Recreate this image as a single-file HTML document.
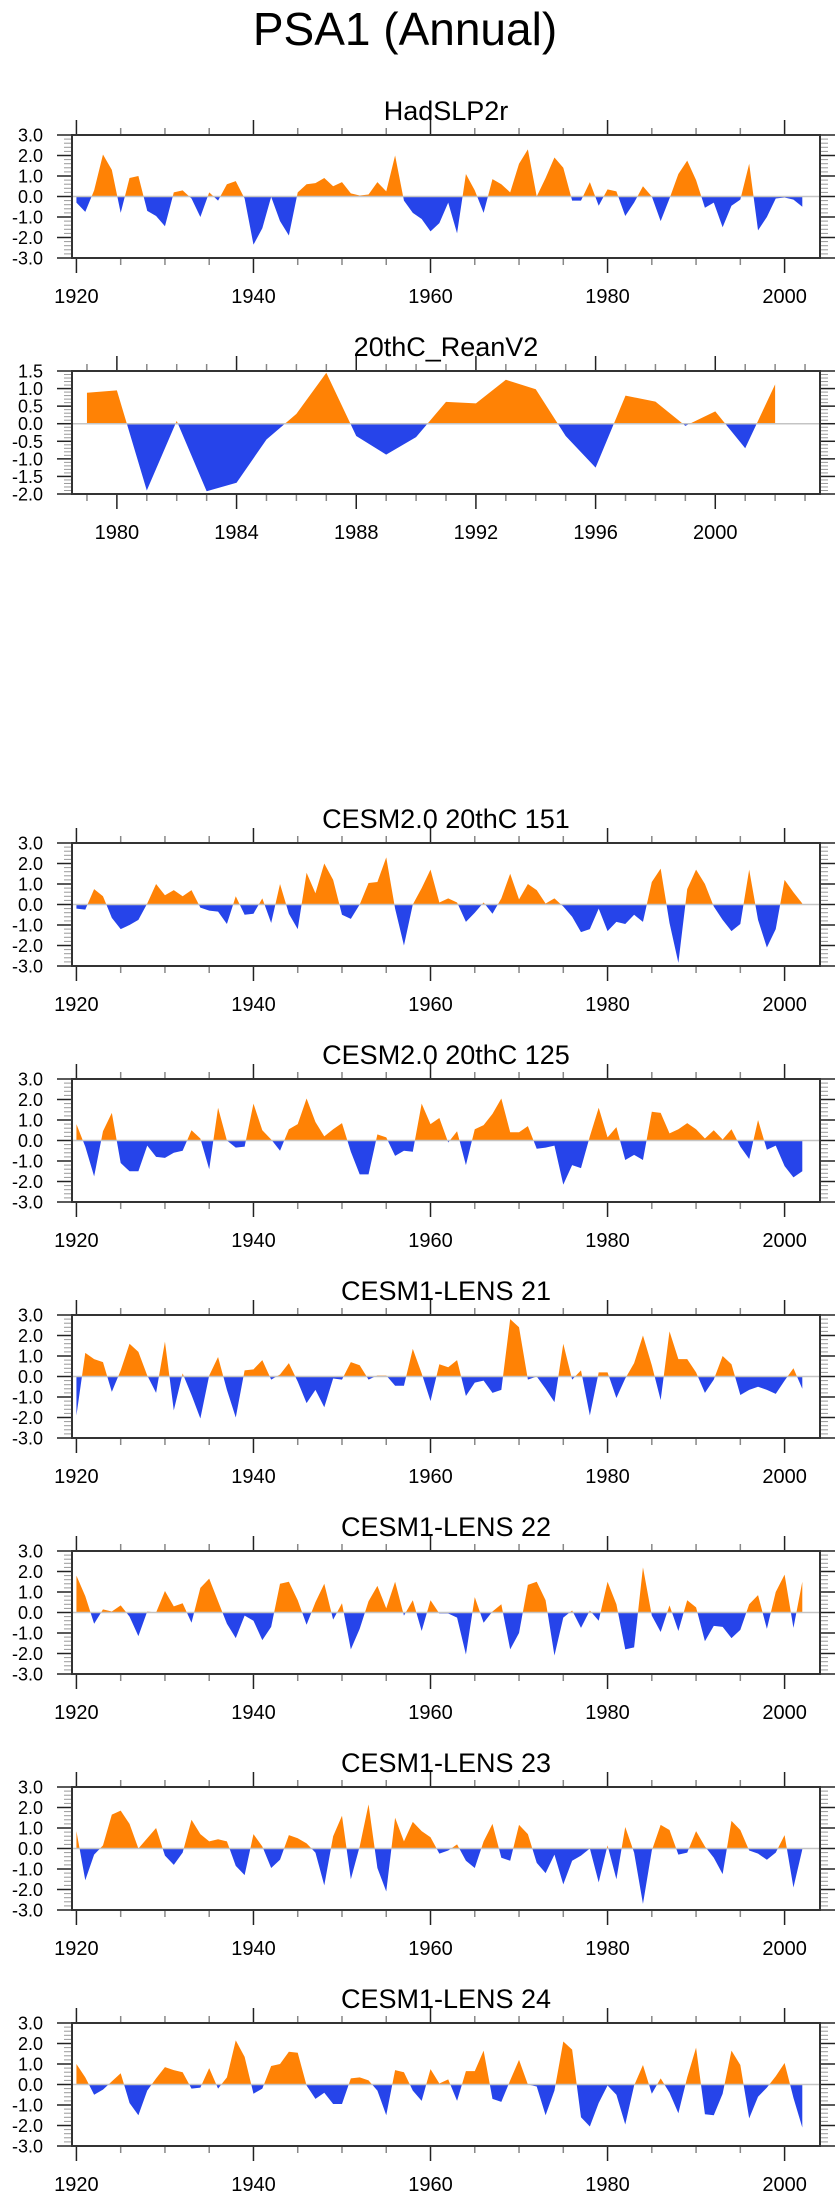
<!DOCTYPE html>
<html>
<head>
<meta charset="utf-8">
<style>
  html,body{margin:0;padding:0;background:#fff;}
  svg{display:block;font-family:"Liberation Sans",Arial,sans-serif;}
</style>
</head>
<body>
<svg id="chart" width="840" height="2200" viewBox="0 0 840 2200" xmlns="http://www.w3.org/2000/svg">
  <rect x="0" y="0" width="840" height="2200" fill="#fff"/>
  <text x="405" y="45" text-anchor="middle" font-size="46" fill="#000">PSA1 (Annual)</text>
</svg>
<script>
// ---- data ----
const panelTitles = ["HadSLP2r","20thC_ReanV2","CESM2.0 20thC 151","CESM2.0 20thC 125","CESM1-LENS 21","CESM1-LENS 22","CESM1-LENS 23","CESM1-LENS 24"];
const startYearLong = 1920;
const startYearRean = 1979;
const yTicksWide = ["3.0","2.0","1.0","0.0","-1.0","-2.0","-3.0"];
const yTicksRean = ["1.5","1.0","0.5","0.0","-0.5","-1.0","-1.5","-2.0"];
const xTickLabelsLong = ["1920","1940","1960","1980","2000"];
const xTickLabelsRean = ["1980","1984","1988","1992","1996","2000"];

const hadslp2r = [-0.3,-0.75,0.3,2.05,1.3,-0.8,0.9,1.0,-0.7,-0.95,-1.45,0.2,0.3,-0.1,-1.0,0.2,-0.2,0.6,0.75,-0.1,
 -2.35,-1.55,-0.02,-1.2,-1.9,0.2,0.6,0.65,0.9,0.5,0.7,0.15,0.05,0.1,0.7,0.25,2.0,-0.2,-0.8,-1.1,
 -1.7,-1.3,-0.3,-1.8,1.1,0.3,-0.8,0.85,0.6,0.2,1.6,2.3,0.0,0.9,1.9,1.4,-0.2,-0.2,0.7,-0.45,
 0.35,0.25,-0.95,-0.3,0.5,0.0,-1.2,-0.1,1.1,1.75,0.8,-0.55,-0.3,-1.5,-0.45,-0.15,1.6,-1.65,-1.0,-0.1,
 -0.05,-0.15,-0.5];
const reanV2 = [0.88,0.95,-1.9,0.08,-1.92,-1.68,-0.45,0.28,1.45,-0.35,-0.88,-0.38,0.62,0.58,1.25,0.98,-0.35,-1.25,0.8,0.63,-0.06,0.35,-0.7,1.12];
const cesm2_151 = [-0.2,-0.25,0.75,0.4,-0.65,-1.2,-1.0,-0.75,0.05,1.0,0.45,0.7,0.4,0.7,-0.15,-0.3,-0.35,-0.95,0.4,-0.5,
 -0.45,0.3,-0.9,1.0,-0.45,-1.2,1.55,0.55,2.0,1.2,-0.5,-0.7,0.0,1.05,1.1,2.3,-0.2,-2.0,0.0,0.8,
 1.7,0.1,0.3,0.1,-0.85,-0.4,0.1,-0.45,0.3,1.5,0.25,1.0,0.7,0.05,0.3,-0.1,-0.6,-1.35,-1.2,-0.2,
 -1.3,-0.85,-0.95,-0.5,-0.85,1.1,1.75,-0.9,-2.85,0.75,1.7,1.0,-0.1,-0.75,-1.3,-0.95,1.7,-0.75,-2.1,-1.2,
 1.2,0.6,0.05];
const cesm2_125 = [0.8,-0.3,-1.75,0.45,1.35,-1.1,-1.5,-1.5,-0.25,-0.8,-0.85,-0.6,-0.5,0.5,0.1,-1.4,1.6,0.0,-0.35,-0.3,
 1.8,0.5,0.05,-0.5,0.55,0.8,2.05,0.9,0.2,0.55,0.85,-0.55,-1.65,-1.65,0.3,0.15,-0.75,-0.5,-0.55,1.8,
 0.8,1.1,-0.1,0.45,-1.2,0.55,0.75,1.3,2.05,0.4,0.4,0.7,-0.4,-0.35,-0.25,-2.15,-1.2,-1.35,0.2,1.6,
 0.15,0.65,-0.95,-0.7,-0.95,1.4,1.35,0.35,0.55,0.85,0.55,0.1,0.5,0.05,0.55,-0.3,-0.9,1.0,-0.45,-0.25,
 -1.25,-1.8,-1.5];
const lens21 = [-1.9,1.15,0.85,0.7,-0.75,0.3,1.6,1.2,0.05,-0.8,1.7,-1.65,0.15,-0.9,-2.05,0.05,0.95,-0.65,-2.0,0.3,
 0.35,0.8,-0.15,0.1,0.65,-0.25,-1.3,-0.65,-1.5,-0.1,-0.15,0.7,0.55,-0.15,0.05,0.05,-0.45,-0.45,1.35,0.15,
 -1.2,0.6,0.45,0.8,-0.95,-0.3,-0.2,-0.8,-0.65,2.8,2.4,-0.15,0.0,-0.6,-1.25,1.6,-0.15,0.3,-1.9,0.2,
 0.2,-1.05,-0.1,0.65,2.0,0.55,-1.15,2.2,0.85,0.85,0.2,-0.8,-0.15,1.0,0.6,-0.9,-0.65,-0.5,-0.65,-0.85,
 -0.2,0.4,-0.6];
const lens22 = [1.8,0.8,-0.55,0.15,0.05,0.35,-0.2,-1.15,0.05,0.0,1.05,0.3,0.45,-0.5,1.2,1.65,0.55,-0.55,-1.25,-0.15,
 -0.4,-1.35,-0.7,1.4,1.5,0.6,-0.6,0.5,1.4,-0.35,0.45,-1.8,-0.8,0.55,1.3,0.2,1.5,-0.15,0.6,-0.9,
 0.6,-0.05,-0.05,-0.25,-2.05,0.75,-0.5,0.05,0.4,-1.8,-1.0,1.35,1.5,0.6,-2.1,-0.25,0.1,-0.75,0.1,-0.4,
 1.5,0.4,-1.8,-1.7,2.2,-0.15,-0.95,0.35,-0.9,0.6,0.25,-1.4,-0.65,-0.7,-1.25,-0.85,0.4,0.85,-0.8,1.0,
 1.85,-0.75,1.5];
const lens23 = [0.85,-1.55,-0.3,0.15,1.65,1.85,1.2,0.0,0.5,1.0,-0.35,-0.8,-0.2,1.4,0.7,0.35,0.45,0.35,-0.85,-1.3,
 0.7,0.1,-0.95,-0.55,0.65,0.5,0.25,-0.2,-1.8,0.6,1.6,-1.5,0.1,2.15,-0.95,-2.1,1.5,0.35,1.3,0.85,
 0.55,-0.25,-0.1,0.2,-0.6,-0.95,0.35,1.2,-0.45,-0.6,1.15,0.7,-0.7,-1.2,-0.3,-1.75,-0.6,-0.35,0.0,-1.65,
 0.15,-1.5,1.05,-0.2,-2.7,-0.1,1.15,0.9,-0.3,-0.2,0.85,0.1,-0.45,-1.25,1.35,0.9,-0.1,-0.25,-0.55,-0.2,
 0.65,-1.9,-0.05];
const lens24 = [1.0,0.35,-0.5,-0.25,0.15,0.55,-0.9,-1.5,-0.3,0.3,0.85,0.7,0.6,-0.2,-0.15,0.8,-0.2,0.35,2.15,1.35,
 -0.45,-0.2,0.9,1.0,1.6,1.55,-0.05,-0.7,-0.4,-0.95,-0.95,0.3,0.35,0.2,-0.3,-1.5,0.7,0.6,-0.3,-0.8,
 0.75,0.05,0.25,-0.8,0.65,0.65,1.65,-0.7,-0.85,0.2,1.2,0.0,-0.1,-1.5,-0.3,2.1,1.7,-1.6,-2.05,-0.9,
 -0.05,-0.5,-1.95,-0.05,0.95,-0.45,0.3,-0.4,-1.4,0.35,1.8,-1.45,-1.5,-0.45,1.65,0.95,-1.65,-0.6,-0.15,0.4,
 1.05,-0.65,-2.1];

// ---- layout ----
const NS = "http://www.w3.org/2000/svg";
const svg = document.getElementById("chart");
const BOX_L = 72, BOX_R = 820, BOX_H = 123;
const panelTops = [135,371,843,1079,1315,1551,1787,2023];
const ORANGE = "#ff8205", BLUE = "#2644ea";

function mk(tag, attrs, parent){
  const e = document.createElementNS(NS, tag);
  for (const k in attrs) e.setAttribute(k, attrs[k]);
  (parent||svg).appendChild(e);
  return e;
}

function drawPanel(idx, title, values, startYear, xDomain, yMin, yMax, yLabels, yStep, yMinor, xLabels, xMajorStep, xMinorStep, xFirstMajor){
  const top = panelTops[idx], bot = top + BOX_H;
  const g = mk("g", {});
  
  
  const xs = yr => BOX_L + (yr - xDomain[0]) / (xDomain[1] - xDomain[0]) * (BOX_R - BOX_L);
  const ys = v => bot - (v - yMin) / (yMax - yMin) * BOX_H;
  const y0 = ys(0);

  const t = mk("text", {x:(BOX_L+BOX_R)/2, y: top-15, "text-anchor":"middle", "font-size":27, fill:"#000"}, g);
  t.textContent = title;
  
  

  const cid = "c" + idx;
  const defs = mk("defs", {}, g);
  const cpA = mk("clipPath", {id: cid + "a"}, defs);
  mk("rect", {x: BOX_L, y: top, width: BOX_R-BOX_L, height: y0-top}, cpA);
  const cpB = mk("clipPath", {id: cid + "b"}, defs);
  mk("rect", {x: BOX_L, y: y0, width: BOX_R-BOX_L, height: bot-y0}, cpB);

  let pts = xs(startYear).toFixed(2) + "," + y0.toFixed(2);
  values.forEach((v,i) => { pts += " " + xs(startYear+i).toFixed(2) + "," + ys(v).toFixed(2); });
  pts += " " + xs(startYear+values.length-1).toFixed(2) + "," + y0.toFixed(2);
  const pa = mk("polygon", {points: pts, fill: ORANGE, "clip-path": "url(#" + cid + "a)"}, g);
  
  
  const pb = mk("polygon", {points: pts, fill: BLUE, "clip-path": "url(#" + cid + "b)"}, g);
  
  

  const zl = mk("line", {x1: BOX_L, x2: BOX_R, y1: y0, y2: y0, stroke: "#c4c4c4", "stroke-width": 1.5}, g);
  
  

  const nMinor = Math.round((yMax - yMin) / yMinor);
  for (let i = 0; i <= nMinor; i++){
    const v = yMin + i * yMinor;
    const isMajor = Math.abs(v/yStep - Math.round(v/yStep)) < 1e-6;
    const yy = ys(v);
    const len = isMajor ? 15 : 8;
    const col = isMajor ? "#222" : "#999";
    mk("line", {x1: BOX_L-len, x2: BOX_L, y1: yy, y2: yy, stroke: col, "stroke-width": isMajor?1.5:1}, g);
    mk("line", {x1: BOX_R, x2: BOX_R+len, y1: yy, y2: yy, stroke: col, "stroke-width": isMajor?1.5:1}, g);
  }
  yLabels.forEach((lab) => {
    const yl = mk("text", {x: 43, y: ys(parseFloat(lab)) + 6.5, "text-anchor": "end", "font-size": 18, fill: "#000"}, g);
    yl.textContent = lab;
    
    
  });

  for (let yr = Math.ceil(xDomain[0]); yr <= xDomain[1]; yr++){
    if ((yr - xFirstMajor) % xMinorStep !== 0) continue;
    const isMajor = (yr - xFirstMajor) % xMajorStep === 0;
    const xx = xs(yr);
    const len = isMajor ? 15 : 7;
    const col = isMajor ? "#222" : "#888";
    mk("line", {x1: xx, x2: xx, y1: top-len, y2: top, stroke: col, "stroke-width": 1.5}, g);
    mk("line", {x1: xx, x2: xx, y1: bot, y2: bot+len, stroke: col, "stroke-width": 1.5}, g);
  }
  xLabels.forEach((lab) => {
    const xl = mk("text", {x: xs(parseInt(lab)), y: bot + 45, "text-anchor": "middle", "font-size": 20, fill: "#000"}, g);
    xl.textContent = lab;
    
    
  });

  const box = mk("rect", {x: BOX_L, y: top, width: BOX_R-BOX_L, height: BOX_H, fill: "none", stroke: "#333", "stroke-width": 2}, g);
  
  
}

const longSeries = [hadslp2r, null, cesm2_151, cesm2_125, lens21, lens22, lens23, lens24];
longSeries.forEach((vals, i) => {
  if (i === 1) {
    drawPanel(1, panelTitles[1], reanV2, startYearRean, [1978.5, 2003.5], -2, 1.5, yTicksRean, 0.5, 0.1, xTickLabelsRean, 4, 1, 1980);
  } else {
    drawPanel(i, panelTitles[i], vals, startYearLong, [1919.5, 2004], -3, 3, yTicksWide, 1, 0.2, xTickLabelsLong, 20, 5, 1920);
  }
});
</script>
</body>
</html>
